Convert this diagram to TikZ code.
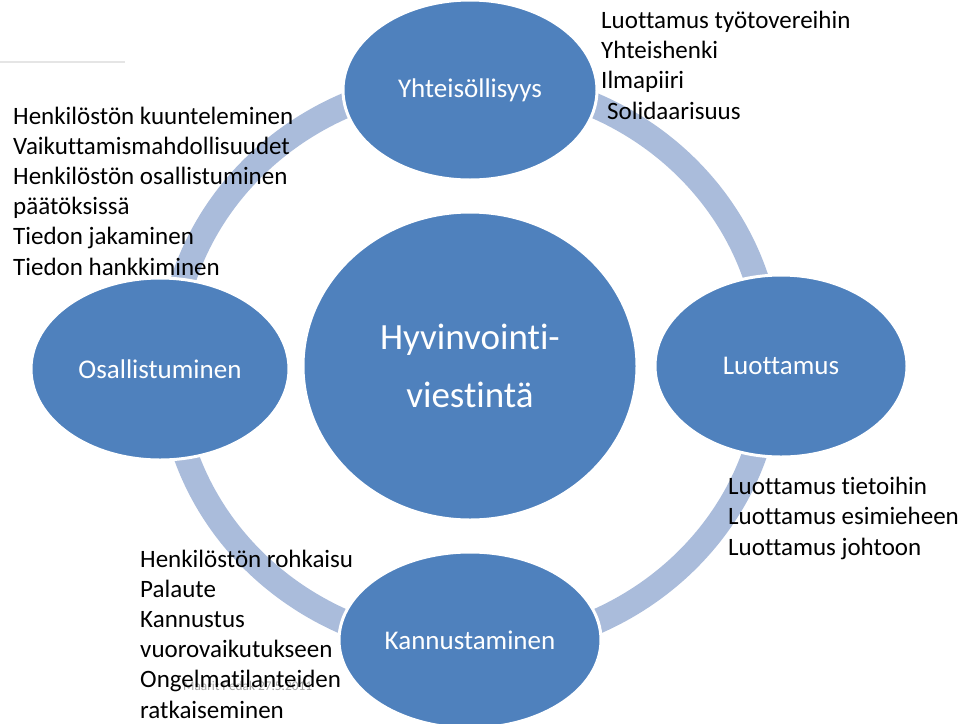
\documentclass[tikz,border=0pt]{standalone}
\usepackage{fontspec}
\setmainfont{Carlito}[Ligatures={NoCommon}]
\usetikzlibrary{shapes.geometric}
\definecolor{accent}{RGB}{79,129,189}
\definecolor{ringc}{RGB}{170,188,219}
\definecolor{footc}{RGB}{165,165,165}
\begin{document}
\begin{tikzpicture}[x=1pt,y=-1pt,
  bubble/.style={ellipse, fill=accent, draw=white, line width=3pt, text=white,
    inner sep=0pt, font=\fontsize{27}{32}\selectfont},
  listtext/.style={anchor=base west, inner sep=0pt, align=left, text=black,
    font=\fontsize{25}{30.2}\selectfont}]
\useasboundingbox (0,0) rectangle (960,723);
% faint title rule
\coordinate (r1) at (0,62);
\coordinate (r2) at (125,62);
\draw[black!10, line width=1.5pt] (r1) -- (r2);
% ring
\coordinate (rc) at (470,364);
\draw[ringc, line width=25pt] (rc) ellipse [x radius=300, y radius=284];
% bubbles
\node[bubble, minimum width=254pt, minimum height=180pt] (top) at (470,90) {Yhteisöllisyys};
\node[bubble, minimum width=258pt, minimum height=182pt] (left) at (160,369) {Osallistuminen};
\node[bubble, minimum width=252pt, minimum height=182pt] (right) at (781,366) {Luottamus};
\node[bubble, minimum width=262pt, minimum height=176pt] (bottom) at (470,640) {Kannustaminen};
\node[bubble, minimum width=334pt, minimum height=308pt, align=center,
  font=\fontsize{37}{58}\selectfont] (center) at (470,366) {Hyvinvointi-\\viestintä};
% footer
\node[anchor=base west, inner sep=0pt, text=footc, font=\fontsize{13.3}{15}\selectfont] (foot) at (183,690) {Maarit Pedak 27.5.2011};
% lists (anchored at the baseline of their last line)
\node[listtext] (tl) at (13,275) {Henkilöstön kuunteleminen\\Vaikuttamismahdollisuudet\\Henkilöstön osallistuminen\\päätöksissä\\Tiedon jakaminen\\Tiedon hankkiminen};
\node[listtext] (tr) at (601,119) {Luottamus työtovereihin\\Yhteishenki\\Ilmapiiri\\\hspace*{6pt}Solidaarisuus};
\node[listtext] (br) at (728,555) {Luottamus tietoihin\\Luottamus esimieheen\\Luottamus johtoon};
\node[listtext] (bl) at (140,718) {Henkilöstön rohkaisu\\Palaute\\Kannustus\\vuorovaikutukseen\\Ongelmatilanteiden\\ratkaiseminen};
\end{tikzpicture}
\end{document}
